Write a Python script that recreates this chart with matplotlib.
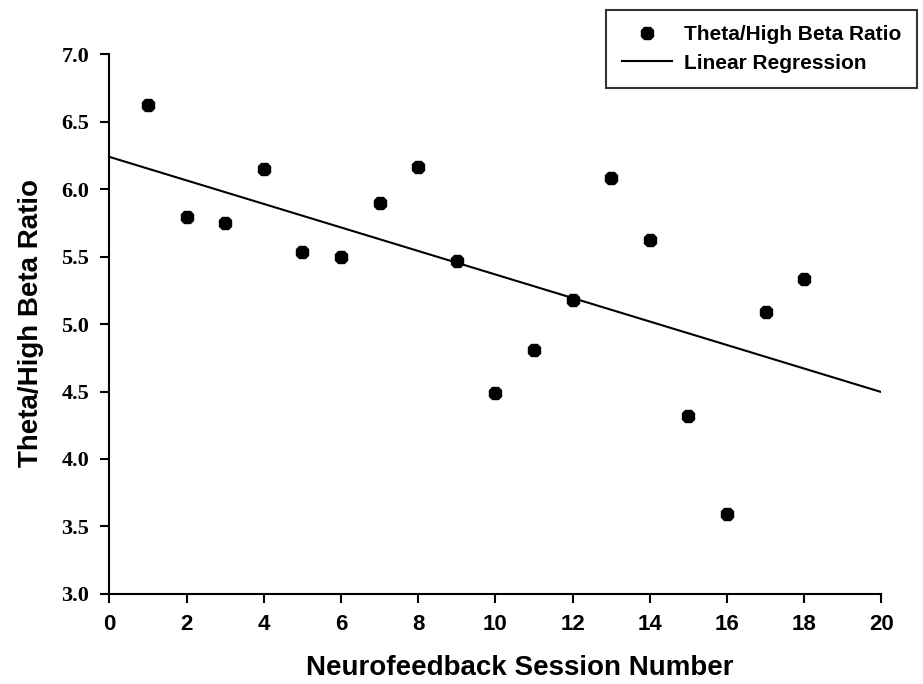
import numpy as np
import matplotlib
matplotlib.use("Agg")
import matplotlib.pyplot as plt

# session numbers and theta/high beta ratio
sessions = [1, 2, 3, 4, 5, 6, 7, 8, 9, 10, 11, 12, 13, 14, 15, 16, 17, 18]
ratio = [6.62, 5.79, 5.75, 6.15, 5.53, 5.50, 5.90, 6.165, 5.47,
         4.49, 4.81, 5.18, 6.08, 5.62, 4.32, 3.59, 5.09, 5.33]

x_ticks = [0, 2, 4, 6, 8, 10, 12, 14, 16, 18, 20]
y_ticks = [3.0, 3.5, 4.0, 4.5, 5.0, 5.5, 6.0, 6.5, 7.0]

sans = ["Liberation Sans", "DejaVu Sans"]
serif = ["Liberation Serif", "DejaVu Serif"]

fig = plt.figure(figsize=(9.23, 6.84), dpi=100)
ax = fig.add_axes([0.1186, 0.1316, 0.8364, 0.7894])

# regression line over the full x range
slope, intercept = np.polyfit(sessions, ratio, 1)
xs = np.array([0, 20])
ax.plot(xs, intercept + slope * xs, color="black", lw=1.5,
        label="Linear Regression", zorder=2)
ax.plot(sessions, ratio, linestyle="none", marker="8", ms=9.5,
        color="black", label="Theta/High Beta Ratio", zorder=3)

ax.set_xlim(0, 20)
ax.set_ylim(3.0, 7.0)
ax.set_xticks(x_ticks)
ax.set_yticks(y_ticks)
ax.set_xticklabels([str(t) for t in x_ticks], family=sans,
                   fontweight="bold", fontsize=16)
ax.set_yticklabels(["%.1f" % t for t in y_ticks], family=serif,
                   fontweight="bold", fontsize=16)
ax.tick_params(direction="out", length=6.5, width=1.5)
ax.tick_params(axis="x", pad=8)
ax.tick_params(axis="y", pad=8)

for s in ["top", "right"]:
    ax.spines[s].set_visible(False)
for s in ["left", "bottom"]:
    ax.spines[s].set_linewidth(1.5)

ax.set_xlabel("Neurofeedback Session Number", family=sans,
              fontweight="bold", fontsize=20, va="center")
ax.xaxis.set_label_coords(0.532, -0.137)
ax.set_ylabel("Theta/High Beta Ratio", family=sans,
              fontweight="bold", fontsize=20, va="center")
ax.yaxis.set_label_coords(-0.101, 0.502)

handles, labels = ax.get_legend_handles_labels()
leg = fig.legend(handles[::-1], labels[::-1], loc="upper right",
                 bbox_to_anchor=(0.994, 0.986), frameon=True, fancybox=False,
                 prop={"family": sans, "weight": "bold", "size": 15},
                 handlelength=2.4, handletextpad=0.6, borderpad=0.75,
                 labelspacing=0.45, borderaxespad=0)
leg.get_frame().set_edgecolor("black")
leg.get_frame().set_linewidth(1.5)

fig.savefig("out.png", dpi=100)
